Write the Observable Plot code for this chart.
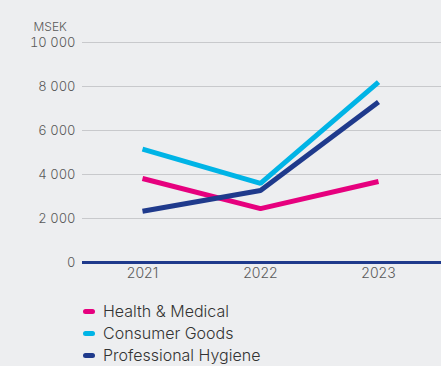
<!DOCTYPE html>
<html>
<head>
<meta charset="utf-8">
<script src="https://cdn.jsdelivr.net/npm/d3@7"></script>
<script src="https://cdn.jsdelivr.net/npm/@observablehq/plot@0.6"></script>
<style>
  html, body { margin: 0; padding: 0; background: #edeef0; }
  body { width: 441px; height: 366px; overflow: hidden; font-family: Inter, "Noto Sans", sans-serif; }
  #legend { margin-left: 83px; margin-top: 10px; }
  .item { display: flex; align-items: center; height: 22px; font-size: 16px; color: #333; font-weight: 300; }
  .sw { width: 12px; height: 5px; border-radius: 3px; margin-right: 8px; }
  svg text { font-weight: 300; }
</style>
</head>
<body>
<div id="chart"></div>
<div id="legend"></div>
<script>
const years = ["2021", "2022", "2023"];
const seriesNames = ["Health & Medical", "Consumer Goods", "Professional Hygiene"];
const healthMedical = [3820, 2450, 3680];
const consumerGoods = [5150, 3600, 8200];
const professionalHygiene = [2330, 3270, 7300];
const colors = ["#e6007e", "#00b4e6", "#1f3a8c"];
const yTicks = [0, 2000, 4000, 6000, 8000, 10000];

const values = [healthMedical, consumerGoods, professionalHygiene];
const data = [];
seriesNames.forEach((s, i) => years.forEach((y, j) => data.push({series: s, year: y, value: values[i][j]})));

const fmt = d => d3.format(",")(d).replace(/,/g, " ");

const chart = Plot.plot({
  width: 441,
  height: 290,
  marginLeft: 82,
  marginRight: 0,
  marginTop: 42,
  marginBottom: 28,
  style: { background: "transparent", fontFamily: "Inter, 'Noto Sans', sans-serif" },
  x: { type: "point", domain: years, padding: 0.5, range: [82, 438], label: null },
  y: { domain: [0, 10000], ticks: yTicks, label: null },
  color: { domain: seriesNames, range: colors },
  marks: [
    Plot.ruleY(yTicks.filter(d => d > 0), { stroke: "#c8c9cc", strokeWidth: 1 }),
    Plot.axisY({ ticks: yTicks, tickFormat: fmt, tickSize: 0, tickPadding: 7, fontSize: 13, fill: "#5a5a5a" }),
    Plot.axisX({ tickSize: 0, tickPadding: 6, fontSize: 14, fill: "#5a5a5a" }),
    Plot.text(["MSEK"], { frameAnchor: "top-left", dx: -49, dy: -20, textAnchor: "start", fontSize: 12, fill: "#5a5a5a" }),
    Plot.line(data, { x: "year", y: "value", z: "series", stroke: "series", strokeWidth: 5, strokeLinecap: "butt", strokeLinejoin: "miter" }),
    Plot.ruleY([0], { stroke: "#1f3a8c", strokeWidth: 3 })
  ]
});
document.getElementById("chart").appendChild(chart);

const legend = document.getElementById("legend");
seriesNames.forEach((s, i) => {
  const item = document.createElement("div");
  item.className = "item";
  const sw = document.createElement("span");
  sw.className = "sw";
  sw.style.background = colors[i];
  const t = document.createElement("span");
  t.textContent = s;
  item.appendChild(sw);
  item.appendChild(t);
  legend.appendChild(item);
});
</script>
</body>
</html>
